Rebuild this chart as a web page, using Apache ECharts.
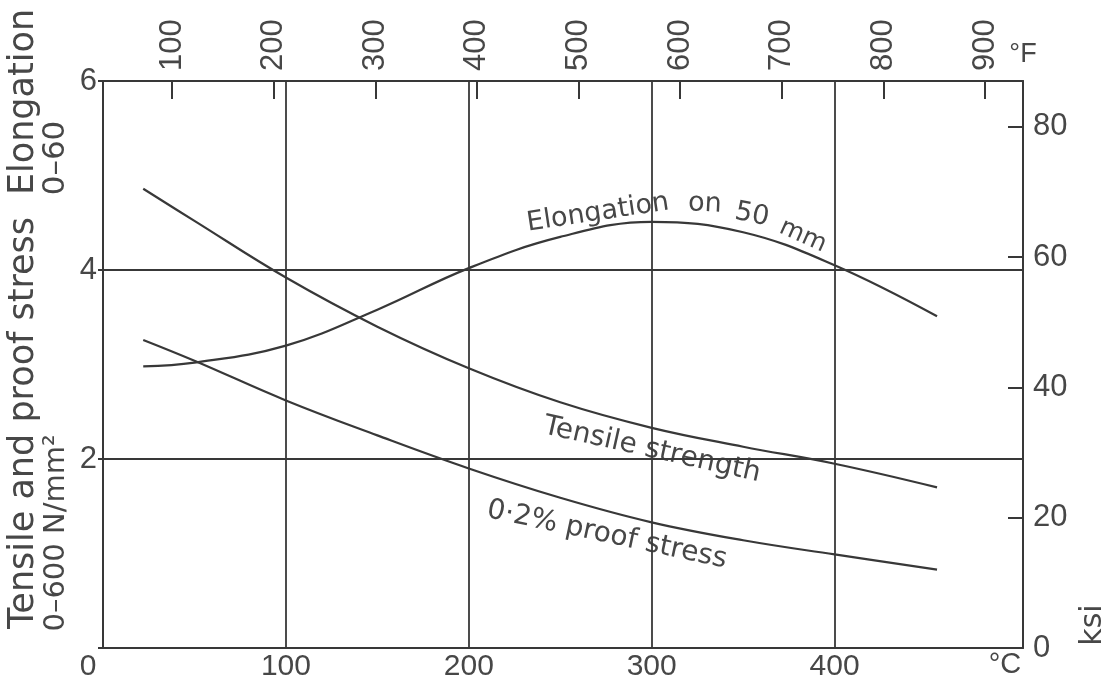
<!DOCTYPE html>
<html>
<head>
<meta charset="utf-8">
<script src="https://cdn.jsdelivr.net/npm/echarts@6/dist/echarts.min.js"></script>
<style>html,body{margin:0;padding:0;background:#fff}#c{width:1112px;height:688px}</style>
</head>
<body>
<div id="c"></div>
<script>
// ---- data ----
const tempC = [22, 50, 100, 150, 200, 250, 300, 350, 400, 456];
const elongation = [2.98, 3.02, 3.20, 3.58, 4.02, 4.35, 4.51, 4.40, 4.05, 3.51];
const tensile = [4.86, 4.52, 3.92, 3.40, 2.96, 2.60, 2.33, 2.13, 1.95, 1.70];
const proof = [3.26, 3.04, 2.62, 2.25, 1.90, 1.59, 1.33, 1.14, 0.99, 0.83];
const bottomLabelsC = [0, 100, 200, 300, 400];
const fahrenheitTicks = [100, 200, 300, 400, 500, 600, 700, 800, 900];
const ksiTicks = [20, 40, 60, 80];
const ksiLabels = [0, 20, 40, 60, 80];
const gridC = [100, 200, 300, 400];
const gridY = [2, 4];

const F2C = f => (f - 32) * 5 / 9;
const C2F = c => c * 9 / 5 + 32;
const pair = (xs, ys) => xs.map((x, i) => [x, ys[i]]);

const ink = '#383838';
const txt = '#474747';
const font = 'DejaVu Sans';
const tickFont = 'Liberation Sans';

const chart = echarts.init(document.getElementById('c'));
chart.setOption({
  backgroundColor: '#fff',
  animation: false,
  textStyle: { fontFamily: font, color: txt },
  grid: { left: 103, right: 89, top: 81, bottom: 40, containLabel: false },
  xAxis: [
    {
      type: 'value', position: 'bottom', min: 0, max: 503, interval: 100,
      axisLine: { show: true, onZero: false, lineStyle: { color: ink, width: 2 } },
      axisTick: { show: false },
      splitLine: { show: false },
      axisLabel: {
        customValues: bottomLabelsC, fontSize: 30, color: txt, margin: 4, fontFamily: tickFont,
        formatter: v => v === 0 ? '{z|0}' : String(v),
        rich: { z: { fontSize: 30, fontFamily: tickFont, color: txt, padding: [0, 30, 0, 0] } }
      }
    },
    {
      type: 'value', position: 'top', min: 0, max: 503,
      axisLine: { show: true, onZero: false, lineStyle: { color: ink, width: 2 } },
      axisTick: { show: true, inside: true, length: 18, customValues: fahrenheitTicks.map(F2C), lineStyle: { color: ink, width: 2 } },
      splitLine: { show: false },
      axisLabel: {
        customValues: fahrenheitTicks.map(F2C), rotate: -90, fontSize: 31, color: txt, margin: 10, fontFamily: tickFont,
        formatter: v => String(Math.round(C2F(v)))
      }
    }
  ],
  yAxis: [
    {
      type: 'value', position: 'left', min: 0, max: 6, interval: 2,
      axisLine: { show: true, onZero: false, lineStyle: { color: ink, width: 2 } },
      axisTick: { show: true, length: 5, lineStyle: { color: ink, width: 2 } },
      splitLine: { show: false },
      axisLabel: { fontSize: 31, color: txt, margin: 6, fontFamily: tickFont, formatter: v => v === 0 ? '' : String(v) }
    },
    {
      type: 'value', position: 'right', min: 0, max: 87,
      axisLine: { show: true, onZero: false, lineStyle: { color: ink, width: 2 } },
      axisTick: { show: true, inside: true, length: 15, customValues: ksiTicks, lineStyle: { color: ink, width: 2 } },
      splitLine: { show: false },
      axisLabel: { customValues: ksiLabels, fontSize: 31, color: txt, margin: 10, fontFamily: tickFont }
    }
  ],
  series: [
    {
      name: 'Elongation on 50 mm', type: 'line', smooth: 0.4, showSymbol: false,
      data: pair(tempC, elongation),
      lineStyle: { color: ink, width: 2.2 },
      markLine: {
        silent: true, symbol: 'none', label: { show: false },
        lineStyle: { color: ink, width: 1.8, type: 'solid' },
        data: gridC.map(c => ({ xAxis: c })).concat(gridY.map(y => ({ yAxis: y })))
      }
    },
    {
      name: 'Tensile strength', type: 'line', smooth: 0.4, showSymbol: false,
      data: pair(tempC, tensile),
      lineStyle: { color: ink, width: 2.2 }
    },
    {
      name: '0·2% proof stress', type: 'line', smooth: 0.4, showSymbol: false,
      data: pair(tempC, proof),
      lineStyle: { color: ink, width: 2.2 }
    }
  ],
  graphic: [
    { type: 'text', x: 24, y: 423, rotation: Math.PI / 2, style: { text: 'Tensile and proof stress', font: '35px DejaVu Sans', fill: txt, align: 'center', verticalAlign: 'middle' } },
    { type: 'text', x: 56, y: 533, rotation: Math.PI / 2, style: { text: '0–600 N/mm²', font: '29px DejaVu Sans', fill: txt, align: 'center', verticalAlign: 'middle' } },
    { type: 'text', x: 24, y: 102, rotation: Math.PI / 2, style: { text: 'Elongation', font: '35px DejaVu Sans', fill: txt, align: 'center', verticalAlign: 'middle' } },
    { type: 'text', x: 56, y: 158, rotation: Math.PI / 2, style: { text: '0–60', font: '31px DejaVu Sans', fill: txt, align: 'center', verticalAlign: 'middle' } },
    { type: 'text', x: 1093, y: 625, rotation: Math.PI / 2, style: { text: 'ksi', font: '30px DejaVu Sans', fill: txt, align: 'center', verticalAlign: 'middle' } },
    { type: 'text', x: 1023, y: 55, style: { text: '°F', font: '27px Liberation Sans', fill: txt, align: 'center', verticalAlign: 'middle' } },
    { type: 'text', x: 1005, y: 665, style: { text: '°C', font: '29px Liberation Sans', fill: txt, align: 'center', verticalAlign: 'middle' } },
    { type: 'text', x: 598, y: 213, rotation: 0.15, style: { text: 'Elongation', font: '27px DejaVu Sans', fill: txt, align: 'center', verticalAlign: 'middle' } },
    { type: 'text', x: 705, y: 204, rotation: -0.05, style: { text: 'on', font: '27px DejaVu Sans', fill: txt, align: 'center', verticalAlign: 'middle' } },
    { type: 'text', x: 752, y: 215, rotation: -0.2, style: { text: '50', font: '27px DejaVu Sans', fill: txt, align: 'center', verticalAlign: 'middle' } },
    { type: 'text', x: 803, y: 236, rotation: -0.42, style: { text: 'mm', font: '25px DejaVu Sans', fill: txt, align: 'center', verticalAlign: 'middle' } },
    { type: 'text', x: 652, y: 450, rotation: -0.22, style: { text: 'Tensile strength', font: '28px DejaVu Sans', fill: txt, align: 'center', verticalAlign: 'middle' } },
    { type: 'text', x: 607, y: 535, rotation: -0.21, style: { text: '0·2% proof stress', font: '28px DejaVu Sans', fill: txt, align: 'center', verticalAlign: 'middle' } }
  ]
});
</script>
</body>
</html>
